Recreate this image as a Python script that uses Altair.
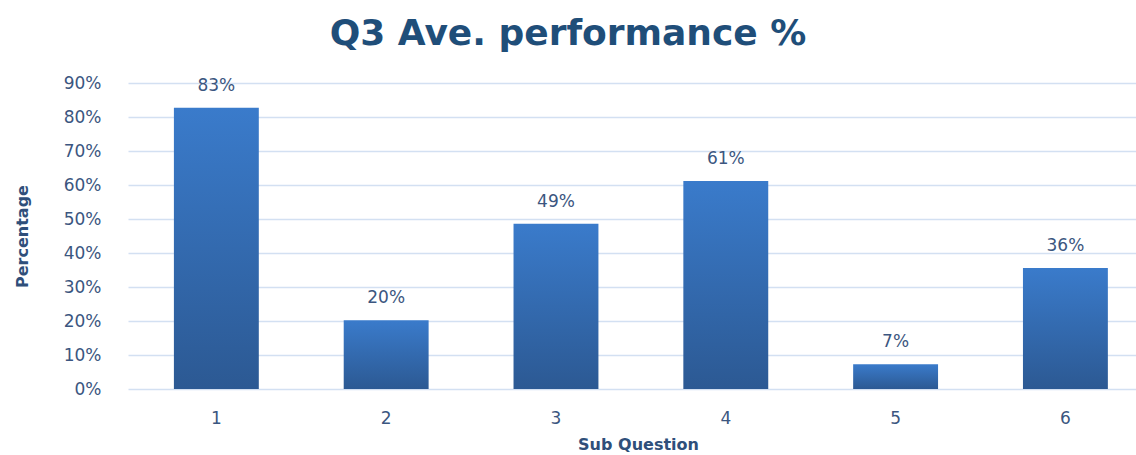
import altair as alt
import pandas as pd

categories = ["1", "2", "3", "4", "5", "6"]
values = [0.827, 0.202, 0.486, 0.612, 0.073, 0.356]
y_ticks = [0.0, 0.1, 0.2, 0.3, 0.4, 0.5, 0.6, 0.7, 0.8, 0.9]

df = pd.DataFrame({"q": categories, "v": values})

label_color = "#3B5680"
grad = alt.Gradient(
    gradient="linear",
    stops=[alt.GradientStop(color="#3A7BCB", offset=0),
           alt.GradientStop(color="#2C5993", offset=1)],
    x1=0, x2=0, y1=0, y2=1,
)

x = alt.X("q:N", sort=categories,
          scale=alt.Scale(paddingInner=0.5, paddingOuter=0.218, align=0.62),
          axis=alt.Axis(title="Sub Question", labelAngle=0, ticks=False, domain=False,
                        labelPadding=21, labelFontSize=17, labelColor=label_color,
                        labelFont="DejaVu Sans",
                        titleFont="DejaVu Sans", titleFontSize=16, titleFontWeight="bold",
                        titleColor="#2F4F7A", titlePadding=10, titleX=510))
y = alt.Y("v:Q", scale=alt.Scale(domain=[0, 0.9], nice=False, zero=True),
          axis=alt.Axis(title="Percentage", format=".0%", values=y_ticks,
                        labelOverlap=False, tickCount=10,
                        ticks=False, domain=False, labelPadding=27, labelFontSize=17,
                        labelColor=label_color, labelFont="DejaVu Sans",
                        grid=True, gridColor="#D3E0F2", gridWidth=1.5, gridOpacity=1,
                        titleFont="DejaVu Sans", titleFontSize=16, titleFontWeight="bold",
                        titleColor="#2F4F7A", titleAngle=-90, titleX=-106, titleY=153,
                        titleAlign="center", titleBaseline="middle"))

base = alt.Chart(df).encode(x=x, y=y)
bars = base.mark_bar(color=grad)
texts = base.mark_text(dy=-22, fontSize=17, font="DejaVu Sans",
                       color=label_color, baseline="middle").encode(
    text=alt.Text("v:Q", format=".0%"))

chart = (bars + texts).properties(
    width=1008, height=306,
    title=alt.Title("Q3 Ave. performance %", font="DejaVu Sans", fontSize=36,
                    fontWeight="bold", color="#1F4E79", dx=-64, offset=21, anchor="middle"),
    autosize=alt.AutoSizeParams(type="none"),
    padding={"left": 128, "top": 83, "right": 0, "bottom": 66},
    background="white",
).configure_view(stroke=None)

chart.save("out.html", embed_options={"renderer": "svg", "actions": False})
